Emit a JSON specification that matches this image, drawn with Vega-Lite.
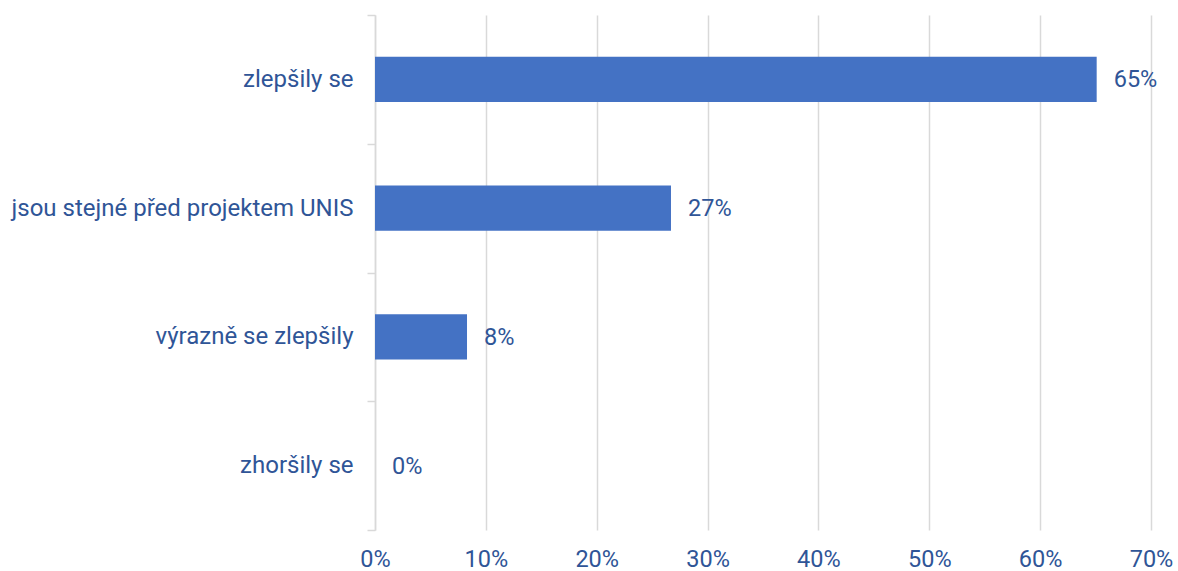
{
  "$schema": "https://vega.github.io/schema/vega-lite/v6.json",
  "width": 776,
  "height": 515,
  "autosize": "none",
  "padding": {"left": 375, "top": 15, "right": 27, "bottom": 41},
  "background": "white",
  "config": {"view": {"stroke": null}, "font": "Roboto"},
  "data": {"values": [
    {"kategorie": "zlepšily se", "podil": 0.651},
    {"kategorie": "jsou stejné před projektem UNIS", "podil": 0.267},
    {"kategorie": "výrazně se zlepšily", "podil": 0.083},
    {"kategorie": "zhoršily se", "podil": 0.0}
  ]},
  "encoding": {
    "y": {
      "field": "kategorie", "type": "nominal", "sort": null,
      "scale": {"paddingInner": 0, "paddingOuter": 0},
      "axis": {
        "title": null, "tickBand": "extent", "grid": false,
        "domainColor": "#d9d9d9", "domainWidth": 1.5,
        "tickColor": "#d9d9d9", "tickWidth": 1.5, "tickSize": 8,
        "labelFont": "Roboto", "labelFontSize": 24, "labelColor": "#2F5597",
        "labelPadding": 14, "labelLimit": 400
      }
    },
    "x": {
      "field": "podil", "type": "quantitative",
      "scale": {"domain": [0, 0.7], "nice": false},
      "axis": {
        "title": null, "format": ".0%", "values": [0, 0.1, 0.2, 0.3, 0.4, 0.5, 0.6, 0.7],
        "domain": false, "ticks": false, "grid": true, "labelFlush": false,
        "gridColor": "#d9d9d9", "gridWidth": 1.5,
        "labelFont": "Roboto", "labelFontSize": 23.5, "labelColor": "#2F5597",
        "labelPadding": 17
      }
    }
  },
  "layer": [
    {"mark": {"type": "bar", "color": "#4472C4", "height": {"band": 0.35}}},
    {
      "mark": {"type": "text", "align": "left", "baseline": "middle", "dx": 17, "dy": 1, "font": "Roboto", "fontSize": 23.5, "color": "#2F5597"},
      "encoding": {"text": {"field": "podil", "type": "quantitative", "format": ".0%"}}
    }
  ]
}
